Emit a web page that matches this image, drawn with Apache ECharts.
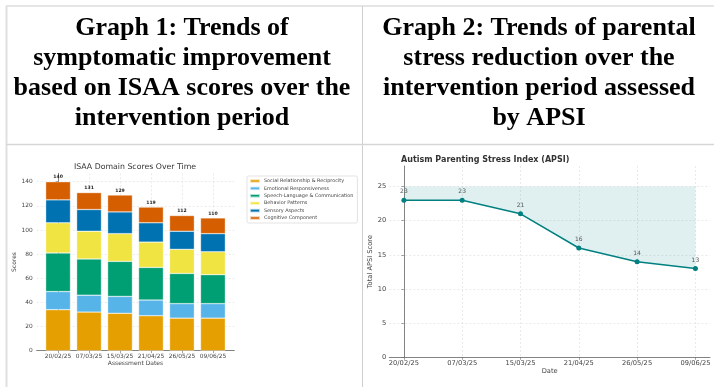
<!DOCTYPE html>
<html>
<head>
<meta charset="utf-8">
<script src="https://cdn.jsdelivr.net/npm/echarts@6/dist/echarts.min.js"></script>
<style>
  html, body { margin: 0; padding: 0; background: #ffffff; }
  #main { width: 714px; height: 387px; }
</style>
</head>
<body>
<div id="main"></div>
<script>
// Assessment dates shared by both graphs
const dates = ['20/02/25', '07/03/25', '15/03/25', '21/04/25', '26/05/25', '09/06/25'];

// ISAA domain scores per assessment
const socialRelationship = [34, 32, 31, 29, 27, 27];
const emotionalResponsiveness = [15, 14, 14, 13, 12, 12];
const speechLanguage = [32, 30, 29, 27, 25, 24];
const behaviorPatterns = [25, 23, 23, 21, 20, 19];
const sensoryAspects = [19, 18, 18, 16, 15, 15];
const cognitiveComponent = [15, 14, 14, 13, 13, 13];
const isaaTicks = [0, 20, 40, 60, 80, 100, 120, 140];

// APSI totals per assessment
const apsiScores = [23, 23, 21, 16, 14, 13];
const apsiShadeCeiling = 25;
const apsiTicks = [0, 5, 10, 15, 20, 25];

const domainNames = [
  'Social Relationship & Reciprocity',
  'Emotional Responsiveness',
  'Speech-Language & Communication',
  'Behavior Patterns',
  'Sensory Aspects',
  'Cognitive Component'
];
const domainValues = [socialRelationship, emotionalResponsiveness, speechLanguage,
  behaviorPatterns, sensoryAspects, cognitiveComponent];
const domainColors = ['#E69F00', '#56B4E9', '#009E73', '#F0E442', '#0072B2', '#D55E00'];
const isaaTotals = dates.map((_, i) => domainValues.reduce((s, arr) => s + arr[i], 0));
const dateIdx = dates.map((_, i) => i);

const FONT = 'DejaVu Sans';
const HEAD_FONT = 'bold 26px "Liberation Serif", "Times New Roman", serif';
const gridLine = { show: true, lineStyle: { color: '#e2e2e2', type: [2, 2], width: 0.7 } };
const spine = { show: true, lineStyle: { color: '#666', width: 0.8 } };

// Plot frames (visible axes) and the inner plotting bands that carry the marks.
// The frames pad the x range like matplotlib does (bar chart: -0.69..5.69, line chart: -0.25..5.25).
const barFrame = { left: 36.7, top: 173.3, width: 197.6, height: 177.4 };
const barPad = 0.69, barUnit = barFrame.width / (dates.length - 1 + 2 * barPad);
const lineFrame = { left: 389.3, top: 166, width: 320.7, height: 191.3 };
const linePad = 0.25, lineUnit = lineFrame.width / (dates.length - 1 + 2 * linePad);

const chart = echarts.init(document.getElementById('main'), null, { renderer: 'canvas' });

const barSeries = domainNames.map((name, k) => ({
  name: name,
  type: 'bar',
  xAxisIndex: 1,
  yAxisIndex: 1,
  stack: 'isaa',
  barWidth: '80%',
  data: domainValues[k],
  itemStyle: { color: domainColors[k], borderColor: 'rgba(255,255,255,0.7)', borderWidth: 0.5 },
  emphasis: { disabled: true },
  label: k === domainNames.length - 1 ? {
    show: true,
    position: 'top',
    distance: 2,
    formatter: p => String(isaaTotals[p.dataIndex]),
    fontFamily: FONT,
    fontSize: 4.6,
    fontWeight: 'bold',
    color: '#222'
  } : { show: false }
}));

const hiddenAxis = { show: false, axisLine: { show: false }, axisTick: { show: false },
  axisLabel: { show: false }, splitLine: { show: false } };

chart.setOption({
  animation: false,
  backgroundColor: '#ffffff',
  title: [
    {
      text: 'ISAA Domain Scores Over Time',
      left: 135, top: 163, textAlign: 'center', padding: 0,
      textStyle: { fontFamily: FONT, fontSize: 7.8, fontWeight: 'normal', color: '#333' }
    },
    {
      text: 'Autism Parenting Stress Index (APSI)',
      left: 401, top: 155.5, padding: 0,
      textStyle: { fontFamily: FONT, fontSize: 8, fontWeight: 'bold', color: '#333' }
    }
  ],
  legend: {
    data: domainNames,
    orient: 'vertical',
    left: 247, top: 176,
    padding: [2, 4, 2, 2],
    itemWidth: 10, itemHeight: 3.6, itemGap: 1.4,
    icon: 'rect',
    borderColor: '#d0d0d0', borderWidth: 0.6, borderRadius: 1.5,
    backgroundColor: '#fff',
    selectedMode: false,
    textStyle: { fontFamily: FONT, fontSize: 4.9, color: '#444', padding: [0, 0, 0, -1], lineHeight: 6 }
  },
  grid: [
    barFrame,
    { left: barFrame.left + (barPad - 0.5) * barUnit, top: barFrame.top,
      width: dates.length * barUnit, height: barFrame.height },
    lineFrame,
    { left: lineFrame.left + linePad * lineUnit, top: lineFrame.top,
      width: (dates.length - 1) * lineUnit, height: lineFrame.height }
  ],
  xAxis: [
    {
      gridIndex: 0, type: 'value', min: -barPad, max: dates.length - 1 + barPad,
      name: 'Assessment Dates', nameLocation: 'middle', nameGap: 9,
      nameTextStyle: { fontFamily: FONT, fontSize: 6, color: '#444' },
      axisLine: spine,
      axisTick: { show: true, length: 2.5, customValues: dateIdx, lineStyle: { color: '#666', width: 0.6 } },
      axisLabel: { customValues: dateIdx, formatter: v => dates[v] || '', margin: 3,
        fontFamily: FONT, fontSize: 5.9, color: '#444' },
      splitLine: gridLine
    },
    Object.assign({ gridIndex: 1, type: 'category', data: dates, boundaryGap: true }, hiddenAxis),
    {
      gridIndex: 2, type: 'value', min: -linePad, max: dates.length - 1 + linePad,
      name: 'Date', nameLocation: 'middle', nameGap: 10,
      nameTextStyle: { fontFamily: FONT, fontSize: 6.7, color: '#444' },
      axisLine: spine,
      axisTick: { show: true, length: 2.5, customValues: dateIdx, lineStyle: { color: '#666', width: 0.6 } },
      axisLabel: { customValues: dateIdx, formatter: v => dates[v] || '', margin: 2.5,
        fontFamily: FONT, fontSize: 6.7, color: '#444' },
      splitLine: gridLine
    },
    Object.assign({ gridIndex: 3, type: 'category', data: dates, boundaryGap: false }, hiddenAxis)
  ],
  yAxis: [
    {
      gridIndex: 0, type: 'value', min: 0, max: 147,
      name: 'Scores', nameLocation: 'middle', nameGap: 12,
      nameTextStyle: { fontFamily: FONT, fontSize: 6, color: '#444' },
      axisLine: spine,
      axisTick: { show: true, length: 2.5, customValues: isaaTicks, lineStyle: { color: '#666', width: 0.6 } },
      axisLabel: { customValues: isaaTicks, margin: 4, fontFamily: FONT, fontSize: 5.9, color: '#444' },
      splitLine: gridLine
    },
    Object.assign({ gridIndex: 1, type: 'value', min: 0, max: 147 }, hiddenAxis),
    {
      gridIndex: 2, type: 'value', min: 0, max: 28,
      name: 'Total APSI Score', nameLocation: 'middle', nameGap: 11,
      nameTextStyle: { fontFamily: FONT, fontSize: 6.7, color: '#444' },
      axisLine: spine,
      axisTick: { show: true, length: 2.5, customValues: apsiTicks, lineStyle: { color: '#666', width: 0.6 } },
      axisLabel: { customValues: apsiTicks, margin: 3, fontFamily: FONT, fontSize: 6.7, color: '#444' },
      splitLine: gridLine
    },
    Object.assign({ gridIndex: 3, type: 'value', min: 0, max: 28 }, hiddenAxis)
  ],
  series: barSeries.concat([
    {
      name: 'shadeBase', type: 'line', xAxisIndex: 3, yAxisIndex: 3, stack: 'shade',
      data: apsiScores,
      symbol: 'none', lineStyle: { width: 0, opacity: 0 }, silent: true, z: 1
    },
    {
      name: 'shadeBand', type: 'line', xAxisIndex: 3, yAxisIndex: 3, stack: 'shade',
      data: apsiScores.map(v => apsiShadeCeiling - v),
      symbol: 'none', lineStyle: { width: 0, opacity: 0 },
      areaStyle: { color: 'rgba(0,128,128,0.12)', opacity: 1 }, silent: true, z: 1
    },
    {
      name: 'APSI', type: 'line', xAxisIndex: 3, yAxisIndex: 3,
      data: apsiScores,
      symbol: 'circle', symbolSize: 5,
      lineStyle: { color: '#008080', width: 1.5 },
      itemStyle: { color: '#008080' },
      label: { show: true, position: 'top', distance: 3, fontFamily: FONT, fontSize: 6, color: '#555' },
      z: 3
    }
  ]),
  graphic: [
    // table rules
    { type: 'line', silent: true, shape: { x1: 6, y1: 6, x2: 714, y2: 6 }, style: { stroke: '#dcdcdc', lineWidth: 1.5 } },
    { type: 'line', silent: true, shape: { x1: 6.5, y1: 6, x2: 6.5, y2: 387 }, style: { stroke: '#e0e0e0', lineWidth: 2 } },
    { type: 'line', silent: true, shape: { x1: 362.5, y1: 6, x2: 362.5, y2: 387 }, style: { stroke: '#cfcfcf', lineWidth: 1 } },
    { type: 'line', silent: true, shape: { x1: 6, y1: 144.5, x2: 714, y2: 144.5 }, style: { stroke: '#d6d6d6', lineWidth: 1.5 } },
    // column headings
    {
      type: 'text', silent: true,
      style: {
        text: 'Graph 1: Trends of\nsymptomatic improvement\nbased on ISAA scores over the\nintervention period',
        x: 182, y: 13.5, align: 'center', verticalAlign: 'top', lineHeight: 30,
        font: HEAD_FONT, fill: '#000'
      }
    },
    {
      type: 'text', silent: true,
      style: {
        text: 'Graph 2: Trends of parental\nstress reduction over the\nintervention period assessed\nby APSI',
        x: 539, y: 13.5, align: 'center', verticalAlign: 'top', lineHeight: 30,
        font: HEAD_FONT, fill: '#000'
      }
    }
  ]
});
</script>
</body>
</html>
